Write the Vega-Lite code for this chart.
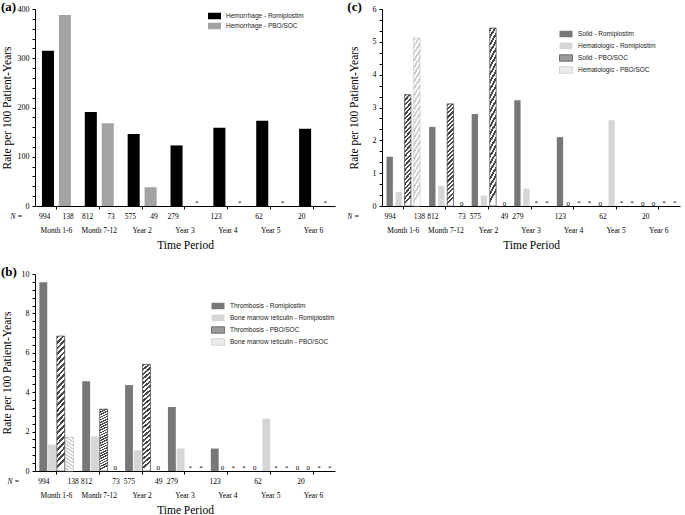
{
  "$schema": "https://vega.github.io/schema/vega-lite/v6.json",
  "background": "white",
  "padding": {"left": 1, "top": 1, "right": 2, "bottom": 0},
  "config": {
    "view": {"stroke": null},
    "font": "Liberation Serif",
    "axis": {"grid": false, "domainColor": "#000", "tickColor": "#000", "labelColor": "#000", "titleColor": "#000", "labelFont": "Liberation Serif", "titleFont": "Liberation Serif", "titleFontWeight": "normal", "domainWidth": 1, "tickWidth": 1, "labelOverlap": false},
    "axisY": {"tickSize": 3, "labelPadding": 3, "labelFontSize": 8, "titleFontSize": 11.5, "titlePadding": 3, "minExtent": 20, "maxExtent": 20},
    "axisX": {"tickSize": 3, "labelAngle": 0, "labelFontSize": 7.5, "labelPadding": 17, "titleFontSize": 11.5, "titlePadding": 6, "title": "Time Period"},
    "legend": {"labelFont": "Liberation Sans", "labelFontSize": 6.5, "labelColor": "#222", "padding": 0, "rowPadding": 0, "labelOffset": 5},
    "title": {"font": "Liberation Serif", "fontSize": 13, "fontWeight": "bold", "anchor": "start", "frame": "bounds", "offset": -9, "color": "#000"}
  },
  "datasets": {
    "hem": [
      {"period": "Month 1-6", "series": "Hemorrhage - Romiplostim", "rate": 315},
      {"period": "Month 1-6", "series": "Hemorrhage - PBO/SOC", "rate": 388},
      {"period": "Month 7-12", "series": "Hemorrhage - Romiplostim", "rate": 191},
      {"period": "Month 7-12", "series": "Hemorrhage - PBO/SOC", "rate": 168},
      {"period": "Year 2", "series": "Hemorrhage - Romiplostim", "rate": 146},
      {"period": "Year 2", "series": "Hemorrhage - PBO/SOC", "rate": 38},
      {"period": "Year 3", "series": "Hemorrhage - Romiplostim", "rate": 123},
      {"period": "Year 3", "series": "Hemorrhage - PBO/SOC", "rate": null},
      {"period": "Year 4", "series": "Hemorrhage - Romiplostim", "rate": 159},
      {"period": "Year 4", "series": "Hemorrhage - PBO/SOC", "rate": null},
      {"period": "Year 5", "series": "Hemorrhage - Romiplostim", "rate": 173},
      {"period": "Year 5", "series": "Hemorrhage - PBO/SOC", "rate": null},
      {"period": "Year 6", "series": "Hemorrhage - Romiplostim", "rate": 157},
      {"period": "Year 6", "series": "Hemorrhage - PBO/SOC", "rate": null}
    ],
    "thr": [
      {"period": "Month 1-6", "series": "Thrombosis - Romiplostim", "rate": 9.58},
      {"period": "Month 1-6", "series": "Bone marrow reticulin - Romiplostim", "rate": 1.34},
      {"period": "Month 1-6", "series": "Thrombosis - PBO/SOC", "rate": 6.85},
      {"period": "Month 1-6", "series": "Bone marrow reticulin - PBO/SOC", "rate": 1.71},
      {"period": "Month 7-12", "series": "Thrombosis - Romiplostim", "rate": 4.56},
      {"period": "Month 7-12", "series": "Bone marrow reticulin - Romiplostim", "rate": 1.76},
      {"period": "Month 7-12", "series": "Thrombosis - PBO/SOC", "rate": 3.14},
      {"period": "Month 7-12", "series": "Bone marrow reticulin - PBO/SOC", "rate": 0},
      {"period": "Year 2", "series": "Thrombosis - Romiplostim", "rate": 4.36},
      {"period": "Year 2", "series": "Bone marrow reticulin - Romiplostim", "rate": 1.05},
      {"period": "Year 2", "series": "Thrombosis - PBO/SOC", "rate": 5.41},
      {"period": "Year 2", "series": "Bone marrow reticulin - PBO/SOC", "rate": 0},
      {"period": "Year 3", "series": "Thrombosis - Romiplostim", "rate": 3.25},
      {"period": "Year 3", "series": "Bone marrow reticulin - Romiplostim", "rate": 1.14},
      {"period": "Year 3", "series": "Thrombosis - PBO/SOC", "rate": null},
      {"period": "Year 3", "series": "Bone marrow reticulin - PBO/SOC", "rate": null},
      {"period": "Year 4", "series": "Thrombosis - Romiplostim", "rate": 1.14},
      {"period": "Year 4", "series": "Bone marrow reticulin - Romiplostim", "rate": 0},
      {"period": "Year 4", "series": "Thrombosis - PBO/SOC", "rate": null},
      {"period": "Year 4", "series": "Bone marrow reticulin - PBO/SOC", "rate": null},
      {"period": "Year 5", "series": "Thrombosis - Romiplostim", "rate": 0},
      {"period": "Year 5", "series": "Bone marrow reticulin - Romiplostim", "rate": 2.66},
      {"period": "Year 5", "series": "Thrombosis - PBO/SOC", "rate": null},
      {"period": "Year 5", "series": "Bone marrow reticulin - PBO/SOC", "rate": null},
      {"period": "Year 6", "series": "Thrombosis - Romiplostim", "rate": 0},
      {"period": "Year 6", "series": "Bone marrow reticulin - Romiplostim", "rate": 0},
      {"period": "Year 6", "series": "Thrombosis - PBO/SOC", "rate": null},
      {"period": "Year 6", "series": "Bone marrow reticulin - PBO/SOC", "rate": null}
    ],
    "mal": [
      {"period": "Month 1-6", "series": "Solid - Romiplostim", "rate": 1.5},
      {"period": "Month 1-6", "series": "Hematologic - Romiplostim", "rate": 0.43},
      {"period": "Month 1-6", "series": "Solid - PBO/SOC", "rate": 3.39},
      {"period": "Month 1-6", "series": "Hematologic - PBO/SOC", "rate": 5.12},
      {"period": "Month 7-12", "series": "Solid - Romiplostim", "rate": 2.41},
      {"period": "Month 7-12", "series": "Hematologic - Romiplostim", "rate": 0.61},
      {"period": "Month 7-12", "series": "Solid - PBO/SOC", "rate": 3.11},
      {"period": "Month 7-12", "series": "Hematologic - PBO/SOC", "rate": 0},
      {"period": "Year 2", "series": "Solid - Romiplostim", "rate": 2.8},
      {"period": "Year 2", "series": "Hematologic - Romiplostim", "rate": 0.32},
      {"period": "Year 2", "series": "Solid - PBO/SOC", "rate": 5.42},
      {"period": "Year 2", "series": "Hematologic - PBO/SOC", "rate": 0},
      {"period": "Year 3", "series": "Solid - Romiplostim", "rate": 3.22},
      {"period": "Year 3", "series": "Hematologic - Romiplostim", "rate": 0.53},
      {"period": "Year 3", "series": "Solid - PBO/SOC", "rate": null},
      {"period": "Year 3", "series": "Hematologic - PBO/SOC", "rate": null},
      {"period": "Year 4", "series": "Solid - Romiplostim", "rate": 2.1},
      {"period": "Year 4", "series": "Hematologic - Romiplostim", "rate": 0},
      {"period": "Year 4", "series": "Solid - PBO/SOC", "rate": null},
      {"period": "Year 4", "series": "Hematologic - PBO/SOC", "rate": null},
      {"period": "Year 5", "series": "Solid - Romiplostim", "rate": 0},
      {"period": "Year 5", "series": "Hematologic - Romiplostim", "rate": 2.61},
      {"period": "Year 5", "series": "Solid - PBO/SOC", "rate": null},
      {"period": "Year 5", "series": "Hematologic - PBO/SOC", "rate": null},
      {"period": "Year 6", "series": "Solid - Romiplostim", "rate": 0},
      {"period": "Year 6", "series": "Hematologic - Romiplostim", "rate": 0},
      {"period": "Year 6", "series": "Solid - PBO/SOC", "rate": null},
      {"period": "Year 6", "series": "Hematologic - PBO/SOC", "rate": null}
    ],
    "nlab": [
      {"period": "Month 1-6", "arm": "Romiplostim", "n": "994"},
      {"period": "Month 1-6", "arm": "PBO/SOC", "n": "138"},
      {"period": "Month 7-12", "arm": "Romiplostim", "n": "812"},
      {"period": "Month 7-12", "arm": "PBO/SOC", "n": "73"},
      {"period": "Year 2", "arm": "Romiplostim", "n": "575"},
      {"period": "Year 2", "arm": "PBO/SOC", "n": "49"},
      {"period": "Year 3", "arm": "Romiplostim", "n": "279"},
      {"period": "Year 4", "arm": "Romiplostim", "n": "123"},
      {"period": "Year 5", "arm": "Romiplostim", "n": "62"},
      {"period": "Year 6", "arm": "Romiplostim", "n": "20"}
    ]
  },
  "resolve": {"scale": {"fill": "independent", "stroke": "independent", "xOffset": "independent"}, "legend": {"fill": "independent", "stroke": "independent"}},
  "vconcat": [
    {
      "spacing": 12,
      "resolve": {"scale": {"fill": "independent", "stroke": "independent", "xOffset": "independent"}, "legend": {"fill": "independent", "stroke": "independent"}},
      "hconcat": [
        {
          "width": 300,
          "height": 197,
          "title": "(a)",
          "layer": [
            {
              "data": {"name": "hem"},
              "transform": [{"filter": "datum.rate > 0"}],
              "mark": {"type": "bar"},
              "encoding": {
                "x": {"field": "period", "type": "nominal", "scale": {"domain": ["Month 1-6", "Month 7-12", "Year 2", "Year 3", "Year 4", "Year 5", "Year 6"], "paddingInner": 0, "paddingOuter": 0}, "axis": {"title": "Time Period"}},
                "y": {"field": "rate", "type": "quantitative", "scale": {"domain": [0, 400], "nice": false}, "axis": {"title": "Rate per 100 Patient-Years", "values": [0, 20, 40, 60, 80, 100, 120, 140, 160, 180, 200, 220, 240, 260, 280, 300, 320, 340, 360, 380, 400], "labelExpr": "datum.value % 100 === 0 ? datum.label : ''"}},
                "xOffset": {"field": "series", "type": "nominal", "scale": {"domain": ["Hemorrhage - Romiplostim", "Hemorrhage - PBO/SOC"], "paddingInner": 0.29, "paddingOuter": 0.41}},
                "fill": {"field": "series", "type": "nominal", "scale": {"domain": ["Hemorrhage - Romiplostim", "Hemorrhage - PBO/SOC"], "range": ["#000000", "#a3a3a3"]}, "legend": {"title": null, "orient": "none", "legendX": 173, "legendY": 0.5, "symbolType": "M-1,-0.5L1,-0.5L1,0.5L-1,0.5Z", "symbolSize": 169, "symbolStrokeWidth": 0}}
              }
            },
            {
              "data": {"name": "hem"},
              "transform": [{"filter": "datum.rate === null"}],
              "mark": {"type": "text", "text": "*", "fontSize": 7, "baseline": "alphabetic", "dy": -1, "color": "#000", "font": "Liberation Serif"},
              "encoding": {
                "x": {"field": "period", "type": "nominal", "scale": {"domain": ["Month 1-6", "Month 7-12", "Year 2", "Year 3", "Year 4", "Year 5", "Year 6"], "paddingInner": 0, "paddingOuter": 0}, "axis": {"title": "Time Period"}},
                "y": {"datum": 0, "type": "quantitative", "axis": {"title": "Rate per 100 Patient-Years", "values": [0, 20, 40, 60, 80, 100, 120, 140, 160, 180, 200, 220, 240, 260, 280, 300, 320, 340, 360, 380, 400], "labelExpr": "datum.value % 100 === 0 ? datum.label : ''"}},
                "xOffset": {"field": "series", "type": "nominal", "scale": {"domain": ["Hemorrhage - Romiplostim", "Hemorrhage - PBO/SOC"], "paddingInner": 0.29, "paddingOuter": 0.41}}
              }
            },
            {
              "data": {"name": "nlab"},
              "mark": {"type": "text", "fontSize": 7.5, "baseline": "middle", "dy": 11, "color": "#000", "font": "Liberation Serif"},
              "encoding": {
                "x": {"field": "period", "type": "nominal", "scale": {"domain": ["Month 1-6", "Month 7-12", "Year 2", "Year 3", "Year 4", "Year 5", "Year 6"], "paddingInner": 0, "paddingOuter": 0}, "axis": {"title": "Time Period"}},
                "y": {"datum": 0, "type": "quantitative", "axis": {"title": "Rate per 100 Patient-Years", "values": [0, 20, 40, 60, 80, 100, 120, 140, 160, 180, 200, 220, 240, 260, 280, 300, 320, 340, 360, 380, 400], "labelExpr": "datum.value % 100 === 0 ? datum.label : ''"}},
                "xOffset": {"field": "arm", "type": "nominal", "scale": {"domain": ["Romiplostim", "PBO/SOC"], "paddingInner": 0.29, "paddingOuter": 0.41}},
                "text": {"field": "n"}
              }
            },
            {
              "data": {"values": [{"period": "Month 1-6"}]},
              "mark": {"type": "text", "text": "N =", "fontStyle": "italic", "fontSize": 7.5, "align": "right", "baseline": "middle", "dx": -34, "dy": 11, "color": "#000", "font": "Liberation Serif"},
              "encoding": {
                "x": {"field": "period", "type": "nominal", "scale": {"domain": ["Month 1-6", "Month 7-12", "Year 2", "Year 3", "Year 4", "Year 5", "Year 6"], "paddingInner": 0, "paddingOuter": 0}, "axis": {"title": "Time Period"}},
                "y": {"datum": 0, "type": "quantitative", "axis": {"title": "Rate per 100 Patient-Years", "values": [0, 20, 40, 60, 80, 100, 120, 140, 160, 180, 200, 220, 240, 260, 280, 300, 320, 340, 360, 380, 400], "labelExpr": "datum.value % 100 === 0 ? datum.label : ''"}}
              }
            }
          ],
          "resolve": {"scale": {"xOffset": "independent"}}
        },
        {
          "width": 298,
          "height": 197,
          "title": "(c)",
          "layer": [
            {
              "data": {"name": "mal"},
              "transform": [{"filter": "datum.rate > 0"}],
              "mark": {"type": "bar"},
              "encoding": {
                "x": {"field": "period", "type": "nominal", "scale": {"domain": ["Month 1-6", "Month 7-12", "Year 2", "Year 3", "Year 4", "Year 5", "Year 6"], "paddingInner": 0, "paddingOuter": 0}, "axis": {"title": "Time Period"}},
                "y": {"field": "rate", "type": "quantitative", "scale": {"domain": [0, 6], "nice": false}, "axis": {"title": "Rate per 100 Patient-Years", "values": [0, 0.3333, 0.6667, 1, 1.3333, 1.6667, 2, 2.3333, 2.6667, 3, 3.3333, 3.6667, 4, 4.3333, 4.6667, 5, 5.3333, 5.6667, 6], "labelExpr": "datum.value % 1 === 0 ? format(datum.value, 'd') : ''"}},
                "xOffset": {"field": "series", "type": "nominal", "scale": {"domain": ["Solid - Romiplostim", "Hematologic - Romiplostim", "Solid - PBO/SOC", "Hematologic - PBO/SOC"], "paddingInner": 0.3, "paddingOuter": 0.5}},
                "fill": {"field": "series", "type": "nominal", "scale": {"domain": ["Solid - Romiplostim", "Hematologic - Romiplostim", "Solid - PBO/SOC", "Hematologic - PBO/SOC"], "range": ["#777777", "#d6d6d6", "#9a9a9a", "#ececec"]}, "legend": {"title": null, "orient": "none", "legendX": 177, "legendY": 18, "symbolType": "M-1,-0.5L1,-0.5L1,0.5L-1,0.5Z", "symbolSize": 169,
                  "encode": {"symbols": {"update": {
                    "fill": [
                      {"test": "datum.value === 'Solid - PBO/SOC'", "value": {"gradient": "linear", "x1": 0, "y1": 0, "x2": 1, "y2": 0.5, "stops": [
                        {"offset": 0, "color": "#484848"}, {"offset": 0.1, "color": "#484848"}, {"offset": 0.1, "color": "#ffffff"}, {"offset": 0.2, "color": "#ffffff"},
                        {"offset": 0.2, "color": "#484848"}, {"offset": 0.3, "color": "#484848"}, {"offset": 0.3, "color": "#ffffff"}, {"offset": 0.4, "color": "#ffffff"},
                        {"offset": 0.4, "color": "#484848"}, {"offset": 0.5, "color": "#484848"}, {"offset": 0.5, "color": "#ffffff"}, {"offset": 0.6, "color": "#ffffff"},
                        {"offset": 0.6, "color": "#484848"}, {"offset": 0.7, "color": "#484848"}, {"offset": 0.7, "color": "#ffffff"}, {"offset": 0.8, "color": "#ffffff"},
                        {"offset": 0.8, "color": "#484848"}, {"offset": 0.9, "color": "#484848"}, {"offset": 0.9, "color": "#ffffff"}, {"offset": 1, "color": "#ffffff"}]}},
                      {"test": "datum.value === 'Hematologic - PBO/SOC'", "value": {"gradient": "linear", "x1": 0, "y1": 0, "x2": 1, "y2": 0.5, "stops": [
                        {"offset": 0, "color": "#cfcfcf"}, {"offset": 0.1, "color": "#cfcfcf"}, {"offset": 0.1, "color": "#ffffff"}, {"offset": 0.2, "color": "#ffffff"},
                        {"offset": 0.2, "color": "#cfcfcf"}, {"offset": 0.3, "color": "#cfcfcf"}, {"offset": 0.3, "color": "#ffffff"}, {"offset": 0.4, "color": "#ffffff"},
                        {"offset": 0.4, "color": "#cfcfcf"}, {"offset": 0.5, "color": "#cfcfcf"}, {"offset": 0.5, "color": "#ffffff"}, {"offset": 0.6, "color": "#ffffff"},
                        {"offset": 0.6, "color": "#cfcfcf"}, {"offset": 0.7, "color": "#cfcfcf"}, {"offset": 0.7, "color": "#ffffff"}, {"offset": 0.8, "color": "#ffffff"},
                        {"offset": 0.8, "color": "#cfcfcf"}, {"offset": 0.9, "color": "#cfcfcf"}, {"offset": 0.9, "color": "#ffffff"}, {"offset": 1, "color": "#ffffff"}]}},
                      {"test": "datum.value === 'Solid - Romiplostim'", "value": "#777777"},
                      {"value": "#d6d6d6"}
                    ],
                    "stroke": [
                      {"test": "datum.value === 'Solid - PBO/SOC'", "value": "#4a4a4a"},
                      {"test": "datum.value === 'Hematologic - PBO/SOC'", "value": "#c4c4c4"},
                      {"value": "transparent"}
                    ],
                    "strokeWidth": {"value": 0.7}
                  }}}
                }}
              }
            },
            {
              "data": {"name": "mal"},
              "transform": [{"filter": "datum.rate > 0 && datum.series === 'Solid - PBO/SOC'"}],
              "mark": {"type": "bar", "stroke": "#4a4a4a", "strokeWidth": 0.7, "fill": {"gradient": "linear", "x1": 0, "y1": 0, "x2": 0.0625, "y2": 1, "stops": [
                    {"offset": 0, "color": "#484848"}, {"offset": 0.0208, "color": "#484848"}, {"offset": 0.0208, "color": "#ffffff"}, {"offset": 0.0417, "color": "#ffffff"},
                    {"offset": 0.0417, "color": "#484848"}, {"offset": 0.0625, "color": "#484848"}, {"offset": 0.0625, "color": "#ffffff"}, {"offset": 0.0833, "color": "#ffffff"},
                    {"offset": 0.0833, "color": "#484848"}, {"offset": 0.1042, "color": "#484848"}, {"offset": 0.1042, "color": "#ffffff"}, {"offset": 0.125, "color": "#ffffff"},
                    {"offset": 0.125, "color": "#484848"}, {"offset": 0.1458, "color": "#484848"}, {"offset": 0.1458, "color": "#ffffff"}, {"offset": 0.1667, "color": "#ffffff"},
                    {"offset": 0.1667, "color": "#484848"}, {"offset": 0.1875, "color": "#484848"}, {"offset": 0.1875, "color": "#ffffff"}, {"offset": 0.2083, "color": "#ffffff"},
                    {"offset": 0.2083, "color": "#484848"}, {"offset": 0.2292, "color": "#484848"}, {"offset": 0.2292, "color": "#ffffff"}, {"offset": 0.25, "color": "#ffffff"},
                    {"offset": 0.25, "color": "#484848"}, {"offset": 0.2708, "color": "#484848"}, {"offset": 0.2708, "color": "#ffffff"}, {"offset": 0.2917, "color": "#ffffff"},
                    {"offset": 0.2917, "color": "#484848"}, {"offset": 0.3125, "color": "#484848"}, {"offset": 0.3125, "color": "#ffffff"}, {"offset": 0.3333, "color": "#ffffff"},
                    {"offset": 0.3333, "color": "#484848"}, {"offset": 0.3542, "color": "#484848"}, {"offset": 0.3542, "color": "#ffffff"}, {"offset": 0.375, "color": "#ffffff"},
                    {"offset": 0.375, "color": "#484848"}, {"offset": 0.3958, "color": "#484848"}, {"offset": 0.3958, "color": "#ffffff"}, {"offset": 0.4167, "color": "#ffffff"},
                    {"offset": 0.4167, "color": "#484848"}, {"offset": 0.4375, "color": "#484848"}, {"offset": 0.4375, "color": "#ffffff"}, {"offset": 0.4583, "color": "#ffffff"},
                    {"offset": 0.4583, "color": "#484848"}, {"offset": 0.4792, "color": "#484848"}, {"offset": 0.4792, "color": "#ffffff"}, {"offset": 0.5, "color": "#ffffff"},
                    {"offset": 0.5, "color": "#484848"}, {"offset": 0.5208, "color": "#484848"}, {"offset": 0.5208, "color": "#ffffff"}, {"offset": 0.5417, "color": "#ffffff"},
                    {"offset": 0.5417, "color": "#484848"}, {"offset": 0.5625, "color": "#484848"}, {"offset": 0.5625, "color": "#ffffff"}, {"offset": 0.5833, "color": "#ffffff"},
                    {"offset": 0.5833, "color": "#484848"}, {"offset": 0.6042, "color": "#484848"}, {"offset": 0.6042, "color": "#ffffff"}, {"offset": 0.625, "color": "#ffffff"},
                    {"offset": 0.625, "color": "#484848"}, {"offset": 0.6458, "color": "#484848"}, {"offset": 0.6458, "color": "#ffffff"}, {"offset": 0.6667, "color": "#ffffff"},
                    {"offset": 0.6667, "color": "#484848"}, {"offset": 0.6875, "color": "#484848"}, {"offset": 0.6875, "color": "#ffffff"}, {"offset": 0.7083, "color": "#ffffff"},
                    {"offset": 0.7083, "color": "#484848"}, {"offset": 0.7292, "color": "#484848"}, {"offset": 0.7292, "color": "#ffffff"}, {"offset": 0.75, "color": "#ffffff"},
                    {"offset": 0.75, "color": "#484848"}, {"offset": 0.7708, "color": "#484848"}, {"offset": 0.7708, "color": "#ffffff"}, {"offset": 0.7917, "color": "#ffffff"},
                    {"offset": 0.7917, "color": "#484848"}, {"offset": 0.8125, "color": "#484848"}, {"offset": 0.8125, "color": "#ffffff"}, {"offset": 0.8333, "color": "#ffffff"},
                    {"offset": 0.8333, "color": "#484848"}, {"offset": 0.8542, "color": "#484848"}, {"offset": 0.8542, "color": "#ffffff"}, {"offset": 0.875, "color": "#ffffff"},
                    {"offset": 0.875, "color": "#484848"}, {"offset": 0.8958, "color": "#484848"}, {"offset": 0.8958, "color": "#ffffff"}, {"offset": 0.9167, "color": "#ffffff"},
                    {"offset": 0.9167, "color": "#484848"}, {"offset": 0.9375, "color": "#484848"}, {"offset": 0.9375, "color": "#ffffff"}, {"offset": 0.9583, "color": "#ffffff"},
                    {"offset": 0.9583, "color": "#484848"}, {"offset": 0.9792, "color": "#484848"}, {"offset": 0.9792, "color": "#ffffff"}, {"offset": 1, "color": "#ffffff"}
                  ]}},
              "encoding": {
                "x": {"field": "period", "type": "nominal", "scale": {"domain": ["Month 1-6", "Month 7-12", "Year 2", "Year 3", "Year 4", "Year 5", "Year 6"], "paddingInner": 0, "paddingOuter": 0}, "axis": {"title": "Time Period"}},
                "y": {"field": "rate", "type": "quantitative", "axis": {"title": "Rate per 100 Patient-Years", "values": [0, 0.3333, 0.6667, 1, 1.3333, 1.6667, 2, 2.3333, 2.6667, 3, 3.3333, 3.6667, 4, 4.3333, 4.6667, 5, 5.3333, 5.6667, 6], "labelExpr": "datum.value % 1 === 0 ? format(datum.value, 'd') : ''"}},
                "xOffset": {"field": "series", "type": "nominal", "scale": {"domain": ["Solid - Romiplostim", "Hematologic - Romiplostim", "Solid - PBO/SOC", "Hematologic - PBO/SOC"], "paddingInner": 0.3, "paddingOuter": 0.5}}
              }
            },
            {
              "data": {"name": "mal"},
              "transform": [{"filter": "datum.rate > 0 && datum.series === 'Hematologic - PBO/SOC'"}],
              "mark": {"type": "bar", "stroke": "#c4c4c4", "strokeWidth": 0.7, "fill": {"gradient": "linear", "x1": 0, "y1": 0, "x2": 0.0625, "y2": 1, "stops": [
                    {"offset": 0, "color": "#cfcfcf"}, {"offset": 0.0208, "color": "#cfcfcf"}, {"offset": 0.0208, "color": "#ffffff"}, {"offset": 0.0417, "color": "#ffffff"},
                    {"offset": 0.0417, "color": "#cfcfcf"}, {"offset": 0.0625, "color": "#cfcfcf"}, {"offset": 0.0625, "color": "#ffffff"}, {"offset": 0.0833, "color": "#ffffff"},
                    {"offset": 0.0833, "color": "#cfcfcf"}, {"offset": 0.1042, "color": "#cfcfcf"}, {"offset": 0.1042, "color": "#ffffff"}, {"offset": 0.125, "color": "#ffffff"},
                    {"offset": 0.125, "color": "#cfcfcf"}, {"offset": 0.1458, "color": "#cfcfcf"}, {"offset": 0.1458, "color": "#ffffff"}, {"offset": 0.1667, "color": "#ffffff"},
                    {"offset": 0.1667, "color": "#cfcfcf"}, {"offset": 0.1875, "color": "#cfcfcf"}, {"offset": 0.1875, "color": "#ffffff"}, {"offset": 0.2083, "color": "#ffffff"},
                    {"offset": 0.2083, "color": "#cfcfcf"}, {"offset": 0.2292, "color": "#cfcfcf"}, {"offset": 0.2292, "color": "#ffffff"}, {"offset": 0.25, "color": "#ffffff"},
                    {"offset": 0.25, "color": "#cfcfcf"}, {"offset": 0.2708, "color": "#cfcfcf"}, {"offset": 0.2708, "color": "#ffffff"}, {"offset": 0.2917, "color": "#ffffff"},
                    {"offset": 0.2917, "color": "#cfcfcf"}, {"offset": 0.3125, "color": "#cfcfcf"}, {"offset": 0.3125, "color": "#ffffff"}, {"offset": 0.3333, "color": "#ffffff"},
                    {"offset": 0.3333, "color": "#cfcfcf"}, {"offset": 0.3542, "color": "#cfcfcf"}, {"offset": 0.3542, "color": "#ffffff"}, {"offset": 0.375, "color": "#ffffff"},
                    {"offset": 0.375, "color": "#cfcfcf"}, {"offset": 0.3958, "color": "#cfcfcf"}, {"offset": 0.3958, "color": "#ffffff"}, {"offset": 0.4167, "color": "#ffffff"},
                    {"offset": 0.4167, "color": "#cfcfcf"}, {"offset": 0.4375, "color": "#cfcfcf"}, {"offset": 0.4375, "color": "#ffffff"}, {"offset": 0.4583, "color": "#ffffff"},
                    {"offset": 0.4583, "color": "#cfcfcf"}, {"offset": 0.4792, "color": "#cfcfcf"}, {"offset": 0.4792, "color": "#ffffff"}, {"offset": 0.5, "color": "#ffffff"},
                    {"offset": 0.5, "color": "#cfcfcf"}, {"offset": 0.5208, "color": "#cfcfcf"}, {"offset": 0.5208, "color": "#ffffff"}, {"offset": 0.5417, "color": "#ffffff"},
                    {"offset": 0.5417, "color": "#cfcfcf"}, {"offset": 0.5625, "color": "#cfcfcf"}, {"offset": 0.5625, "color": "#ffffff"}, {"offset": 0.5833, "color": "#ffffff"},
                    {"offset": 0.5833, "color": "#cfcfcf"}, {"offset": 0.6042, "color": "#cfcfcf"}, {"offset": 0.6042, "color": "#ffffff"}, {"offset": 0.625, "color": "#ffffff"},
                    {"offset": 0.625, "color": "#cfcfcf"}, {"offset": 0.6458, "color": "#cfcfcf"}, {"offset": 0.6458, "color": "#ffffff"}, {"offset": 0.6667, "color": "#ffffff"},
                    {"offset": 0.6667, "color": "#cfcfcf"}, {"offset": 0.6875, "color": "#cfcfcf"}, {"offset": 0.6875, "color": "#ffffff"}, {"offset": 0.7083, "color": "#ffffff"},
                    {"offset": 0.7083, "color": "#cfcfcf"}, {"offset": 0.7292, "color": "#cfcfcf"}, {"offset": 0.7292, "color": "#ffffff"}, {"offset": 0.75, "color": "#ffffff"},
                    {"offset": 0.75, "color": "#cfcfcf"}, {"offset": 0.7708, "color": "#cfcfcf"}, {"offset": 0.7708, "color": "#ffffff"}, {"offset": 0.7917, "color": "#ffffff"},
                    {"offset": 0.7917, "color": "#cfcfcf"}, {"offset": 0.8125, "color": "#cfcfcf"}, {"offset": 0.8125, "color": "#ffffff"}, {"offset": 0.8333, "color": "#ffffff"},
                    {"offset": 0.8333, "color": "#cfcfcf"}, {"offset": 0.8542, "color": "#cfcfcf"}, {"offset": 0.8542, "color": "#ffffff"}, {"offset": 0.875, "color": "#ffffff"},
                    {"offset": 0.875, "color": "#cfcfcf"}, {"offset": 0.8958, "color": "#cfcfcf"}, {"offset": 0.8958, "color": "#ffffff"}, {"offset": 0.9167, "color": "#ffffff"},
                    {"offset": 0.9167, "color": "#cfcfcf"}, {"offset": 0.9375, "color": "#cfcfcf"}, {"offset": 0.9375, "color": "#ffffff"}, {"offset": 0.9583, "color": "#ffffff"},
                    {"offset": 0.9583, "color": "#cfcfcf"}, {"offset": 0.9792, "color": "#cfcfcf"}, {"offset": 0.9792, "color": "#ffffff"}, {"offset": 1, "color": "#ffffff"}
                  ]}},
              "encoding": {
                "x": {"field": "period", "type": "nominal", "scale": {"domain": ["Month 1-6", "Month 7-12", "Year 2", "Year 3", "Year 4", "Year 5", "Year 6"], "paddingInner": 0, "paddingOuter": 0}, "axis": {"title": "Time Period"}},
                "y": {"field": "rate", "type": "quantitative", "axis": {"title": "Rate per 100 Patient-Years", "values": [0, 0.3333, 0.6667, 1, 1.3333, 1.6667, 2, 2.3333, 2.6667, 3, 3.3333, 3.6667, 4, 4.3333, 4.6667, 5, 5.3333, 5.6667, 6], "labelExpr": "datum.value % 1 === 0 ? format(datum.value, 'd') : ''"}},
                "xOffset": {"field": "series", "type": "nominal", "scale": {"domain": ["Solid - Romiplostim", "Hematologic - Romiplostim", "Solid - PBO/SOC", "Hematologic - PBO/SOC"], "paddingInner": 0.3, "paddingOuter": 0.5}}
              }
            },
            {
              "data": {"name": "mal"},
              "transform": [{"filter": "datum.rate === null"}],
              "mark": {"type": "text", "text": "*", "fontSize": 7, "baseline": "alphabetic", "dy": -1, "color": "#000", "font": "Liberation Serif"},
              "encoding": {
                "x": {"field": "period", "type": "nominal", "scale": {"domain": ["Month 1-6", "Month 7-12", "Year 2", "Year 3", "Year 4", "Year 5", "Year 6"], "paddingInner": 0, "paddingOuter": 0}, "axis": {"title": "Time Period"}},
                "y": {"datum": 0, "type": "quantitative", "axis": {"title": "Rate per 100 Patient-Years", "values": [0, 0.3333, 0.6667, 1, 1.3333, 1.6667, 2, 2.3333, 2.6667, 3, 3.3333, 3.6667, 4, 4.3333, 4.6667, 5, 5.3333, 5.6667, 6], "labelExpr": "datum.value % 1 === 0 ? format(datum.value, 'd') : ''"}},
                "xOffset": {"field": "series", "type": "nominal", "scale": {"domain": ["Solid - Romiplostim", "Hematologic - Romiplostim", "Solid - PBO/SOC", "Hematologic - PBO/SOC"], "paddingInner": 0.3, "paddingOuter": 0.5}}
              }
            },
            {
              "data": {"name": "mal"},
              "transform": [{"filter": "datum.rate === 0"}],
              "mark": {"type": "text", "text": "0", "fontSize": 7, "baseline": "alphabetic", "dy": 0, "color": "#000", "font": "Liberation Serif"},
              "encoding": {
                "x": {"field": "period", "type": "nominal", "scale": {"domain": ["Month 1-6", "Month 7-12", "Year 2", "Year 3", "Year 4", "Year 5", "Year 6"], "paddingInner": 0, "paddingOuter": 0}, "axis": {"title": "Time Period"}},
                "y": {"datum": 0, "type": "quantitative", "axis": {"title": "Rate per 100 Patient-Years", "values": [0, 0.3333, 0.6667, 1, 1.3333, 1.6667, 2, 2.3333, 2.6667, 3, 3.3333, 3.6667, 4, 4.3333, 4.6667, 5, 5.3333, 5.6667, 6], "labelExpr": "datum.value % 1 === 0 ? format(datum.value, 'd') : ''"}},
                "xOffset": {"field": "series", "type": "nominal", "scale": {"domain": ["Solid - Romiplostim", "Hematologic - Romiplostim", "Solid - PBO/SOC", "Hematologic - PBO/SOC"], "paddingInner": 0.3, "paddingOuter": 0.5}}
              }
            },
            {
              "data": {"name": "nlab"},
              "mark": {"type": "text", "fontSize": 7.5, "baseline": "middle", "dy": 11, "dx": 1.5, "color": "#000", "font": "Liberation Serif"},
              "encoding": {
                "x": {"field": "period", "type": "nominal", "scale": {"domain": ["Month 1-6", "Month 7-12", "Year 2", "Year 3", "Year 4", "Year 5", "Year 6"], "paddingInner": 0, "paddingOuter": 0}, "axis": {"title": "Time Period"}},
                "y": {"datum": 0, "type": "quantitative", "axis": {"title": "Rate per 100 Patient-Years", "values": [0, 0.3333, 0.6667, 1, 1.3333, 1.6667, 2, 2.3333, 2.6667, 3, 3.3333, 3.6667, 4, 4.3333, 4.6667, 5, 5.3333, 5.6667, 6], "labelExpr": "datum.value % 1 === 0 ? format(datum.value, 'd') : ''"}},
                "xOffset": {"field": "arm", "type": "nominal", "scale": {"domain": ["Romiplostim", "PBO/SOC"], "paddingInner": 0, "paddingOuter": 0.23}},
                "text": {"field": "n"}
              }
            },
            {
              "data": {"values": [{"period": "Month 1-6"}]},
              "mark": {"type": "text", "text": "N =", "fontStyle": "italic", "fontSize": 7.5, "align": "right", "baseline": "middle", "dx": -44, "dy": 11, "color": "#000", "font": "Liberation Serif"},
              "encoding": {
                "x": {"field": "period", "type": "nominal", "scale": {"domain": ["Month 1-6", "Month 7-12", "Year 2", "Year 3", "Year 4", "Year 5", "Year 6"], "paddingInner": 0, "paddingOuter": 0}, "axis": {"title": "Time Period"}},
                "y": {"datum": 0, "type": "quantitative", "axis": {"title": "Rate per 100 Patient-Years", "values": [0, 0.3333, 0.6667, 1, 1.3333, 1.6667, 2, 2.3333, 2.6667, 3, 3.3333, 3.6667, 4, 4.3333, 4.6667, 5, 5.3333, 5.6667, 6], "labelExpr": "datum.value % 1 === 0 ? format(datum.value, 'd') : ''"}}
              }
            }
          ],
          "resolve": {"scale": {"xOffset": "independent"}}
        }
      ]
    },
    {
      "width": 300,
      "height": 197,
      "title": "(b)",
      "layer": [
        {
          "data": {"name": "thr"},
          "transform": [{"filter": "datum.rate > 0"}],
          "mark": {"type": "bar"},
          "encoding": {
            "x": {"field": "period", "type": "nominal", "scale": {"domain": ["Month 1-6", "Month 7-12", "Year 2", "Year 3", "Year 4", "Year 5", "Year 6"], "paddingInner": 0, "paddingOuter": 0}, "axis": {"title": "Time Period"}},
            "y": {"field": "rate", "type": "quantitative", "scale": {"domain": [0, 10], "nice": false}, "axis": {"title": "Rate per 100 Patient-Years", "values": [0, 0.4, 0.8, 1.2, 1.6, 2, 2.4, 2.8, 3.2, 3.6, 4, 4.4, 4.8, 5.2, 5.6, 6, 6.4, 6.8, 7.2, 7.6, 8, 8.4, 8.8, 9.2, 9.6, 10], "labelExpr": "datum.value % 2 === 0 ? format(datum.value, 'd') : ''"}},
            "xOffset": {"field": "series", "type": "nominal", "scale": {"domain": ["Thrombosis - Romiplostim", "Bone marrow reticulin - Romiplostim", "Thrombosis - PBO/SOC", "Bone marrow reticulin - PBO/SOC"], "paddingInner": 0.1, "paddingOuter": 0.5}},
            "fill": {"field": "series", "type": "nominal", "scale": {"domain": ["Thrombosis - Romiplostim", "Bone marrow reticulin - Romiplostim", "Thrombosis - PBO/SOC", "Bone marrow reticulin - PBO/SOC"], "range": ["#777777", "#d6d6d6", "#9a9a9a", "#ececec"]}, "legend": {"title": null, "orient": "none", "legendX": 176, "legendY": 25, "symbolType": "M-1,-0.5L1,-0.5L1,0.5L-1,0.5Z", "symbolSize": 169,
              "encode": {"symbols": {"update": {
                "fill": [
                  {"test": "datum.value === 'Thrombosis - PBO/SOC'", "value": {"gradient": "linear", "x1": 0, "y1": 0, "x2": 1, "y2": 0.5, "stops": [
                    {"offset": 0, "color": "#484848"}, {"offset": 0.1, "color": "#484848"}, {"offset": 0.1, "color": "#ffffff"}, {"offset": 0.2, "color": "#ffffff"},
                    {"offset": 0.2, "color": "#484848"}, {"offset": 0.3, "color": "#484848"}, {"offset": 0.3, "color": "#ffffff"}, {"offset": 0.4, "color": "#ffffff"},
                    {"offset": 0.4, "color": "#484848"}, {"offset": 0.5, "color": "#484848"}, {"offset": 0.5, "color": "#ffffff"}, {"offset": 0.6, "color": "#ffffff"},
                    {"offset": 0.6, "color": "#484848"}, {"offset": 0.7, "color": "#484848"}, {"offset": 0.7, "color": "#ffffff"}, {"offset": 0.8, "color": "#ffffff"},
                    {"offset": 0.8, "color": "#484848"}, {"offset": 0.9, "color": "#484848"}, {"offset": 0.9, "color": "#ffffff"}, {"offset": 1, "color": "#ffffff"}]}},
                  {"test": "datum.value === 'Bone marrow reticulin - PBO/SOC'", "value": {"gradient": "linear", "x1": 0, "y1": 0, "x2": 1, "y2": 0.5, "stops": [
                    {"offset": 0, "color": "#cfcfcf"}, {"offset": 0.1, "color": "#cfcfcf"}, {"offset": 0.1, "color": "#ffffff"}, {"offset": 0.2, "color": "#ffffff"},
                    {"offset": 0.2, "color": "#cfcfcf"}, {"offset": 0.3, "color": "#cfcfcf"}, {"offset": 0.3, "color": "#ffffff"}, {"offset": 0.4, "color": "#ffffff"},
                    {"offset": 0.4, "color": "#cfcfcf"}, {"offset": 0.5, "color": "#cfcfcf"}, {"offset": 0.5, "color": "#ffffff"}, {"offset": 0.6, "color": "#ffffff"},
                    {"offset": 0.6, "color": "#cfcfcf"}, {"offset": 0.7, "color": "#cfcfcf"}, {"offset": 0.7, "color": "#ffffff"}, {"offset": 0.8, "color": "#ffffff"},
                    {"offset": 0.8, "color": "#cfcfcf"}, {"offset": 0.9, "color": "#cfcfcf"}, {"offset": 0.9, "color": "#ffffff"}, {"offset": 1, "color": "#ffffff"}]}},
                  {"test": "datum.value === 'Thrombosis - Romiplostim'", "value": "#777777"},
                  {"value": "#d6d6d6"}
                ],
                "stroke": [
                  {"test": "datum.value === 'Thrombosis - PBO/SOC'", "value": "#4a4a4a"},
                  {"test": "datum.value === 'Bone marrow reticulin - PBO/SOC'", "value": "#c4c4c4"},
                  {"value": "transparent"}
                ],
                "strokeWidth": {"value": 0.7}
              }}}
            }}
          }
        },
        {
          "data": {"name": "thr"},
          "transform": [{"filter": "datum.rate > 0 && datum.series === 'Thrombosis - PBO/SOC'"}],
          "mark": {"type": "bar", "stroke": "#4a4a4a", "strokeWidth": 0.7, "fill": {"gradient": "linear", "x1": 0, "y1": 0, "x2": 0.0625, "y2": 1, "stops": [
                {"offset": 0, "color": "#484848"}, {"offset": 0.0208, "color": "#484848"}, {"offset": 0.0208, "color": "#ffffff"}, {"offset": 0.0417, "color": "#ffffff"},
                {"offset": 0.0417, "color": "#484848"}, {"offset": 0.0625, "color": "#484848"}, {"offset": 0.0625, "color": "#ffffff"}, {"offset": 0.0833, "color": "#ffffff"},
                {"offset": 0.0833, "color": "#484848"}, {"offset": 0.1042, "color": "#484848"}, {"offset": 0.1042, "color": "#ffffff"}, {"offset": 0.125, "color": "#ffffff"},
                {"offset": 0.125, "color": "#484848"}, {"offset": 0.1458, "color": "#484848"}, {"offset": 0.1458, "color": "#ffffff"}, {"offset": 0.1667, "color": "#ffffff"},
                {"offset": 0.1667, "color": "#484848"}, {"offset": 0.1875, "color": "#484848"}, {"offset": 0.1875, "color": "#ffffff"}, {"offset": 0.2083, "color": "#ffffff"},
                {"offset": 0.2083, "color": "#484848"}, {"offset": 0.2292, "color": "#484848"}, {"offset": 0.2292, "color": "#ffffff"}, {"offset": 0.25, "color": "#ffffff"},
                {"offset": 0.25, "color": "#484848"}, {"offset": 0.2708, "color": "#484848"}, {"offset": 0.2708, "color": "#ffffff"}, {"offset": 0.2917, "color": "#ffffff"},
                {"offset": 0.2917, "color": "#484848"}, {"offset": 0.3125, "color": "#484848"}, {"offset": 0.3125, "color": "#ffffff"}, {"offset": 0.3333, "color": "#ffffff"},
                {"offset": 0.3333, "color": "#484848"}, {"offset": 0.3542, "color": "#484848"}, {"offset": 0.3542, "color": "#ffffff"}, {"offset": 0.375, "color": "#ffffff"},
                {"offset": 0.375, "color": "#484848"}, {"offset": 0.3958, "color": "#484848"}, {"offset": 0.3958, "color": "#ffffff"}, {"offset": 0.4167, "color": "#ffffff"},
                {"offset": 0.4167, "color": "#484848"}, {"offset": 0.4375, "color": "#484848"}, {"offset": 0.4375, "color": "#ffffff"}, {"offset": 0.4583, "color": "#ffffff"},
                {"offset": 0.4583, "color": "#484848"}, {"offset": 0.4792, "color": "#484848"}, {"offset": 0.4792, "color": "#ffffff"}, {"offset": 0.5, "color": "#ffffff"},
                {"offset": 0.5, "color": "#484848"}, {"offset": 0.5208, "color": "#484848"}, {"offset": 0.5208, "color": "#ffffff"}, {"offset": 0.5417, "color": "#ffffff"},
                {"offset": 0.5417, "color": "#484848"}, {"offset": 0.5625, "color": "#484848"}, {"offset": 0.5625, "color": "#ffffff"}, {"offset": 0.5833, "color": "#ffffff"},
                {"offset": 0.5833, "color": "#484848"}, {"offset": 0.6042, "color": "#484848"}, {"offset": 0.6042, "color": "#ffffff"}, {"offset": 0.625, "color": "#ffffff"},
                {"offset": 0.625, "color": "#484848"}, {"offset": 0.6458, "color": "#484848"}, {"offset": 0.6458, "color": "#ffffff"}, {"offset": 0.6667, "color": "#ffffff"},
                {"offset": 0.6667, "color": "#484848"}, {"offset": 0.6875, "color": "#484848"}, {"offset": 0.6875, "color": "#ffffff"}, {"offset": 0.7083, "color": "#ffffff"},
                {"offset": 0.7083, "color": "#484848"}, {"offset": 0.7292, "color": "#484848"}, {"offset": 0.7292, "color": "#ffffff"}, {"offset": 0.75, "color": "#ffffff"},
                {"offset": 0.75, "color": "#484848"}, {"offset": 0.7708, "color": "#484848"}, {"offset": 0.7708, "color": "#ffffff"}, {"offset": 0.7917, "color": "#ffffff"},
                {"offset": 0.7917, "color": "#484848"}, {"offset": 0.8125, "color": "#484848"}, {"offset": 0.8125, "color": "#ffffff"}, {"offset": 0.8333, "color": "#ffffff"},
                {"offset": 0.8333, "color": "#484848"}, {"offset": 0.8542, "color": "#484848"}, {"offset": 0.8542, "color": "#ffffff"}, {"offset": 0.875, "color": "#ffffff"},
                {"offset": 0.875, "color": "#484848"}, {"offset": 0.8958, "color": "#484848"}, {"offset": 0.8958, "color": "#ffffff"}, {"offset": 0.9167, "color": "#ffffff"},
                {"offset": 0.9167, "color": "#484848"}, {"offset": 0.9375, "color": "#484848"}, {"offset": 0.9375, "color": "#ffffff"}, {"offset": 0.9583, "color": "#ffffff"},
                {"offset": 0.9583, "color": "#484848"}, {"offset": 0.9792, "color": "#484848"}, {"offset": 0.9792, "color": "#ffffff"}, {"offset": 1, "color": "#ffffff"}
              ]}},
          "encoding": {
            "x": {"field": "period", "type": "nominal", "scale": {"domain": ["Month 1-6", "Month 7-12", "Year 2", "Year 3", "Year 4", "Year 5", "Year 6"], "paddingInner": 0, "paddingOuter": 0}, "axis": {"title": "Time Period"}},
            "y": {"field": "rate", "type": "quantitative", "axis": {"title": "Rate per 100 Patient-Years", "values": [0, 0.4, 0.8, 1.2, 1.6, 2, 2.4, 2.8, 3.2, 3.6, 4, 4.4, 4.8, 5.2, 5.6, 6, 6.4, 6.8, 7.2, 7.6, 8, 8.4, 8.8, 9.2, 9.6, 10], "labelExpr": "datum.value % 2 === 0 ? format(datum.value, 'd') : ''"}},
            "xOffset": {"field": "series", "type": "nominal", "scale": {"domain": ["Thrombosis - Romiplostim", "Bone marrow reticulin - Romiplostim", "Thrombosis - PBO/SOC", "Bone marrow reticulin - PBO/SOC"], "paddingInner": 0.1, "paddingOuter": 0.5}}
          }
        },
        {
          "data": {"name": "thr"},
          "transform": [{"filter": "datum.rate > 0 && datum.series === 'Bone marrow reticulin - PBO/SOC'"}],
          "mark": {"type": "bar", "stroke": "#c4c4c4", "strokeWidth": 0.7, "fill": {"gradient": "linear", "x1": 0, "y1": 0, "x2": 0.0625, "y2": 1, "stops": [
                {"offset": 0, "color": "#cfcfcf"}, {"offset": 0.0208, "color": "#cfcfcf"}, {"offset": 0.0208, "color": "#ffffff"}, {"offset": 0.0417, "color": "#ffffff"},
                {"offset": 0.0417, "color": "#cfcfcf"}, {"offset": 0.0625, "color": "#cfcfcf"}, {"offset": 0.0625, "color": "#ffffff"}, {"offset": 0.0833, "color": "#ffffff"},
                {"offset": 0.0833, "color": "#cfcfcf"}, {"offset": 0.1042, "color": "#cfcfcf"}, {"offset": 0.1042, "color": "#ffffff"}, {"offset": 0.125, "color": "#ffffff"},
                {"offset": 0.125, "color": "#cfcfcf"}, {"offset": 0.1458, "color": "#cfcfcf"}, {"offset": 0.1458, "color": "#ffffff"}, {"offset": 0.1667, "color": "#ffffff"},
                {"offset": 0.1667, "color": "#cfcfcf"}, {"offset": 0.1875, "color": "#cfcfcf"}, {"offset": 0.1875, "color": "#ffffff"}, {"offset": 0.2083, "color": "#ffffff"},
                {"offset": 0.2083, "color": "#cfcfcf"}, {"offset": 0.2292, "color": "#cfcfcf"}, {"offset": 0.2292, "color": "#ffffff"}, {"offset": 0.25, "color": "#ffffff"},
                {"offset": 0.25, "color": "#cfcfcf"}, {"offset": 0.2708, "color": "#cfcfcf"}, {"offset": 0.2708, "color": "#ffffff"}, {"offset": 0.2917, "color": "#ffffff"},
                {"offset": 0.2917, "color": "#cfcfcf"}, {"offset": 0.3125, "color": "#cfcfcf"}, {"offset": 0.3125, "color": "#ffffff"}, {"offset": 0.3333, "color": "#ffffff"},
                {"offset": 0.3333, "color": "#cfcfcf"}, {"offset": 0.3542, "color": "#cfcfcf"}, {"offset": 0.3542, "color": "#ffffff"}, {"offset": 0.375, "color": "#ffffff"},
                {"offset": 0.375, "color": "#cfcfcf"}, {"offset": 0.3958, "color": "#cfcfcf"}, {"offset": 0.3958, "color": "#ffffff"}, {"offset": 0.4167, "color": "#ffffff"},
                {"offset": 0.4167, "color": "#cfcfcf"}, {"offset": 0.4375, "color": "#cfcfcf"}, {"offset": 0.4375, "color": "#ffffff"}, {"offset": 0.4583, "color": "#ffffff"},
                {"offset": 0.4583, "color": "#cfcfcf"}, {"offset": 0.4792, "color": "#cfcfcf"}, {"offset": 0.4792, "color": "#ffffff"}, {"offset": 0.5, "color": "#ffffff"},
                {"offset": 0.5, "color": "#cfcfcf"}, {"offset": 0.5208, "color": "#cfcfcf"}, {"offset": 0.5208, "color": "#ffffff"}, {"offset": 0.5417, "color": "#ffffff"},
                {"offset": 0.5417, "color": "#cfcfcf"}, {"offset": 0.5625, "color": "#cfcfcf"}, {"offset": 0.5625, "color": "#ffffff"}, {"offset": 0.5833, "color": "#ffffff"},
                {"offset": 0.5833, "color": "#cfcfcf"}, {"offset": 0.6042, "color": "#cfcfcf"}, {"offset": 0.6042, "color": "#ffffff"}, {"offset": 0.625, "color": "#ffffff"},
                {"offset": 0.625, "color": "#cfcfcf"}, {"offset": 0.6458, "color": "#cfcfcf"}, {"offset": 0.6458, "color": "#ffffff"}, {"offset": 0.6667, "color": "#ffffff"},
                {"offset": 0.6667, "color": "#cfcfcf"}, {"offset": 0.6875, "color": "#cfcfcf"}, {"offset": 0.6875, "color": "#ffffff"}, {"offset": 0.7083, "color": "#ffffff"},
                {"offset": 0.7083, "color": "#cfcfcf"}, {"offset": 0.7292, "color": "#cfcfcf"}, {"offset": 0.7292, "color": "#ffffff"}, {"offset": 0.75, "color": "#ffffff"},
                {"offset": 0.75, "color": "#cfcfcf"}, {"offset": 0.7708, "color": "#cfcfcf"}, {"offset": 0.7708, "color": "#ffffff"}, {"offset": 0.7917, "color": "#ffffff"},
                {"offset": 0.7917, "color": "#cfcfcf"}, {"offset": 0.8125, "color": "#cfcfcf"}, {"offset": 0.8125, "color": "#ffffff"}, {"offset": 0.8333, "color": "#ffffff"},
                {"offset": 0.8333, "color": "#cfcfcf"}, {"offset": 0.8542, "color": "#cfcfcf"}, {"offset": 0.8542, "color": "#ffffff"}, {"offset": 0.875, "color": "#ffffff"},
                {"offset": 0.875, "color": "#cfcfcf"}, {"offset": 0.8958, "color": "#cfcfcf"}, {"offset": 0.8958, "color": "#ffffff"}, {"offset": 0.9167, "color": "#ffffff"},
                {"offset": 0.9167, "color": "#cfcfcf"}, {"offset": 0.9375, "color": "#cfcfcf"}, {"offset": 0.9375, "color": "#ffffff"}, {"offset": 0.9583, "color": "#ffffff"},
                {"offset": 0.9583, "color": "#cfcfcf"}, {"offset": 0.9792, "color": "#cfcfcf"}, {"offset": 0.9792, "color": "#ffffff"}, {"offset": 1, "color": "#ffffff"}
              ]}},
          "encoding": {
            "x": {"field": "period", "type": "nominal", "scale": {"domain": ["Month 1-6", "Month 7-12", "Year 2", "Year 3", "Year 4", "Year 5", "Year 6"], "paddingInner": 0, "paddingOuter": 0}, "axis": {"title": "Time Period"}},
            "y": {"field": "rate", "type": "quantitative", "axis": {"title": "Rate per 100 Patient-Years", "values": [0, 0.4, 0.8, 1.2, 1.6, 2, 2.4, 2.8, 3.2, 3.6, 4, 4.4, 4.8, 5.2, 5.6, 6, 6.4, 6.8, 7.2, 7.6, 8, 8.4, 8.8, 9.2, 9.6, 10], "labelExpr": "datum.value % 2 === 0 ? format(datum.value, 'd') : ''"}},
            "xOffset": {"field": "series", "type": "nominal", "scale": {"domain": ["Thrombosis - Romiplostim", "Bone marrow reticulin - Romiplostim", "Thrombosis - PBO/SOC", "Bone marrow reticulin - PBO/SOC"], "paddingInner": 0.1, "paddingOuter": 0.5}}
          }
        },
        {
          "data": {"name": "thr"},
          "transform": [{"filter": "datum.rate === null"}],
          "mark": {"type": "text", "text": "*", "fontSize": 7, "baseline": "alphabetic", "dy": -1, "color": "#000", "font": "Liberation Serif"},
          "encoding": {
            "x": {"field": "period", "type": "nominal", "scale": {"domain": ["Month 1-6", "Month 7-12", "Year 2", "Year 3", "Year 4", "Year 5", "Year 6"], "paddingInner": 0, "paddingOuter": 0}, "axis": {"title": "Time Period"}},
            "y": {"datum": 0, "type": "quantitative", "axis": {"title": "Rate per 100 Patient-Years", "values": [0, 0.4, 0.8, 1.2, 1.6, 2, 2.4, 2.8, 3.2, 3.6, 4, 4.4, 4.8, 5.2, 5.6, 6, 6.4, 6.8, 7.2, 7.6, 8, 8.4, 8.8, 9.2, 9.6, 10], "labelExpr": "datum.value % 2 === 0 ? format(datum.value, 'd') : ''"}},
            "xOffset": {"field": "series", "type": "nominal", "scale": {"domain": ["Thrombosis - Romiplostim", "Bone marrow reticulin - Romiplostim", "Thrombosis - PBO/SOC", "Bone marrow reticulin - PBO/SOC"], "paddingInner": 0.1, "paddingOuter": 0.5}}
          }
        },
        {
          "data": {"name": "thr"},
          "transform": [{"filter": "datum.rate === 0"}],
          "mark": {"type": "text", "text": "0", "fontSize": 7, "baseline": "alphabetic", "dy": -1, "color": "#000", "font": "Liberation Serif"},
          "encoding": {
            "x": {"field": "period", "type": "nominal", "scale": {"domain": ["Month 1-6", "Month 7-12", "Year 2", "Year 3", "Year 4", "Year 5", "Year 6"], "paddingInner": 0, "paddingOuter": 0}, "axis": {"title": "Time Period"}},
            "y": {"datum": 0, "type": "quantitative", "axis": {"title": "Rate per 100 Patient-Years", "values": [0, 0.4, 0.8, 1.2, 1.6, 2, 2.4, 2.8, 3.2, 3.6, 4, 4.4, 4.8, 5.2, 5.6, 6, 6.4, 6.8, 7.2, 7.6, 8, 8.4, 8.8, 9.2, 9.6, 10], "labelExpr": "datum.value % 2 === 0 ? format(datum.value, 'd') : ''"}},
            "xOffset": {"field": "series", "type": "nominal", "scale": {"domain": ["Thrombosis - Romiplostim", "Bone marrow reticulin - Romiplostim", "Thrombosis - PBO/SOC", "Bone marrow reticulin - PBO/SOC"], "paddingInner": 0.1, "paddingOuter": 0.5}}
          }
        },
        {
          "data": {"name": "nlab"},
          "mark": {"type": "text", "fontSize": 7.5, "baseline": "middle", "dy": 11, "dx": 2, "color": "#000", "font": "Liberation Serif"},
          "encoding": {
            "x": {"field": "period", "type": "nominal", "scale": {"domain": ["Month 1-6", "Month 7-12", "Year 2", "Year 3", "Year 4", "Year 5", "Year 6"], "paddingInner": 0, "paddingOuter": 0}, "axis": {"title": "Time Period"}},
            "y": {"datum": 0, "type": "quantitative", "axis": {"title": "Rate per 100 Patient-Years", "values": [0, 0.4, 0.8, 1.2, 1.6, 2, 2.4, 2.8, 3.2, 3.6, 4, 4.4, 4.8, 5.2, 5.6, 6, 6.4, 6.8, 7.2, 7.6, 8, 8.4, 8.8, 9.2, 9.6, 10], "labelExpr": "datum.value % 2 === 0 ? format(datum.value, 'd') : ''"}},
            "xOffset": {"field": "arm", "type": "nominal", "scale": {"domain": ["Romiplostim", "PBO/SOC"], "paddingInner": 0, "paddingOuter": 0.23}},
            "text": {"field": "n"}
          }
        },
        {
          "data": {"values": [{"period": "Month 1-6"}]},
          "mark": {"type": "text", "text": "N =", "fontStyle": "italic", "fontSize": 7.5, "align": "right", "baseline": "middle", "dx": -37, "dy": 11, "color": "#000", "font": "Liberation Serif"},
          "encoding": {
            "x": {"field": "period", "type": "nominal", "scale": {"domain": ["Month 1-6", "Month 7-12", "Year 2", "Year 3", "Year 4", "Year 5", "Year 6"], "paddingInner": 0, "paddingOuter": 0}, "axis": {"title": "Time Period"}},
            "y": {"datum": 0, "type": "quantitative", "axis": {"title": "Rate per 100 Patient-Years", "values": [0, 0.4, 0.8, 1.2, 1.6, 2, 2.4, 2.8, 3.2, 3.6, 4, 4.4, 4.8, 5.2, 5.6, 6, 6.4, 6.8, 7.2, 7.6, 8, 8.4, 8.8, 9.2, 9.6, 10], "labelExpr": "datum.value % 2 === 0 ? format(datum.value, 'd') : ''"}}
          }
        }
      ],
      "resolve": {"scale": {"xOffset": "independent"}}
    }
  ],
  "spacing": 15
}
